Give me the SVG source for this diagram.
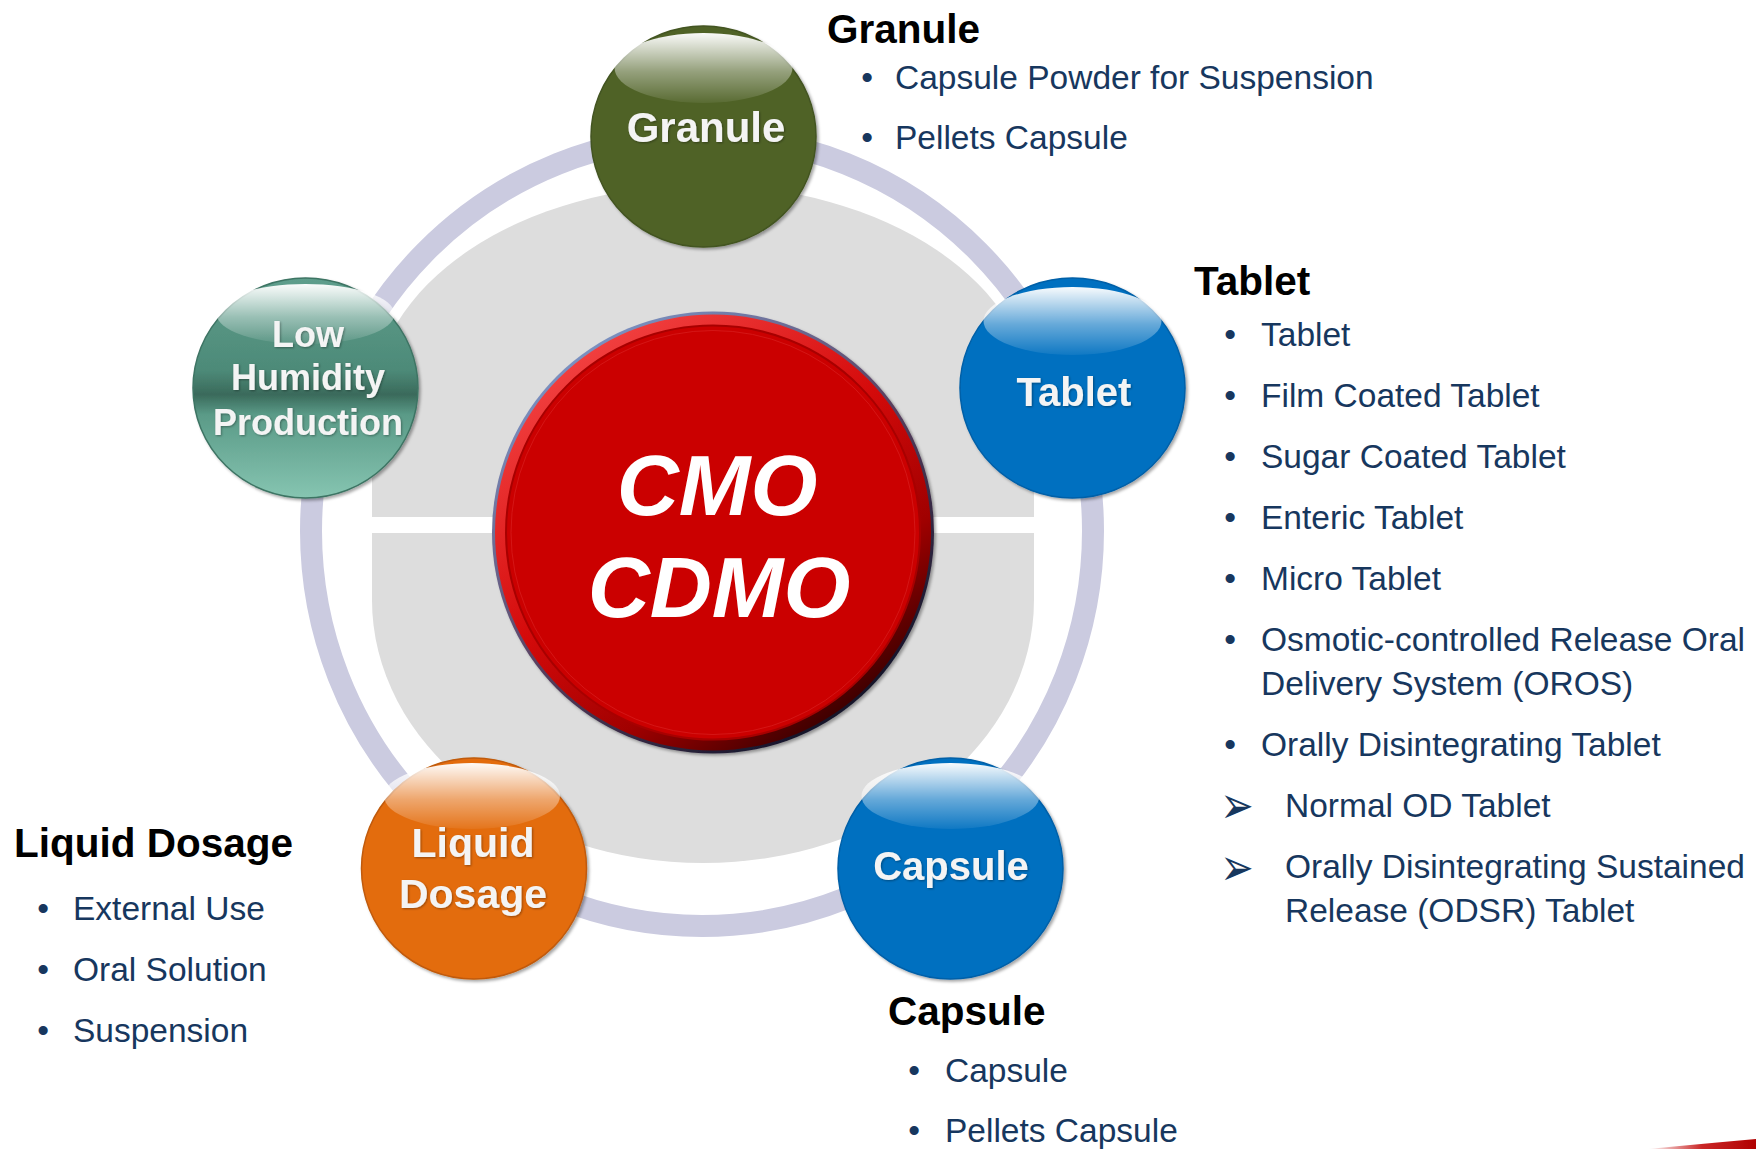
<svg xmlns="http://www.w3.org/2000/svg" width="1756" height="1149" viewBox="0 0 1756 1149">
<style>
.lbl{font-family:"Liberation Sans",Arial,sans-serif;font-weight:bold;fill:#F4F4F4;text-anchor:middle}
.head{font-family:"Liberation Sans",Arial,sans-serif;font-weight:bold;font-size:40.5px;fill:#000}
.item{font-family:"Liberation Sans",Arial,sans-serif;font-size:33.5px;fill:#17375E}
.dot{font-family:"Liberation Sans",Arial,sans-serif;font-size:33.5px;fill:#17375E;text-anchor:middle}
.arr{font-family:"DejaVu Sans",sans-serif;font-size:40px;fill:#17375E;text-anchor:middle}
.cmo{font-family:"Liberation Sans",Arial,sans-serif;font-weight:bold;font-style:italic;font-size:86px;fill:#FFFFFF;text-anchor:middle}
</style>
<defs>
<linearGradient id="hl" x1="0" y1="0" x2="0" y2="1">
<stop offset="0" stop-color="#FFFFFF" stop-opacity="0.97"/>
<stop offset="0.55" stop-color="#FFFFFF" stop-opacity="0.4"/>
<stop offset="1" stop-color="#FFFFFF" stop-opacity="0.06"/>
</linearGradient>
<linearGradient id="teal" x1="0" y1="0" x2="0" y2="1">
<stop offset="0" stop-color="#5E9E8C"/>
<stop offset="0.42" stop-color="#4D8A78"/>
<stop offset="0.53" stop-color="#3A6A5B"/>
<stop offset="0.62" stop-color="#5A9A87"/>
<stop offset="1" stop-color="#86C5B1"/>
</linearGradient>
<linearGradient id="edge" x1="0.2" y1="0.1" x2="0.8" y2="0.9">
<stop offset="0" stop-color="#7A90C0"/>
<stop offset="0.5" stop-color="#5A4060"/>
<stop offset="1" stop-color="#15152A"/>
</linearGradient>
<linearGradient id="rim" x1="0.2" y1="0.08" x2="0.8" y2="0.92">
<stop offset="0" stop-color="#F24040"/>
<stop offset="0.45" stop-color="#D40A0A"/>
<stop offset="0.75" stop-color="#A00000"/>
<stop offset="1" stop-color="#3A0000"/>
</linearGradient>
<linearGradient id="swoosh" x1="0" y1="0" x2="1" y2="0">
<stop offset="0" stop-color="#C00000" stop-opacity="0"/>
<stop offset="0.5" stop-color="#C00000" stop-opacity="0.85"/>
<stop offset="1" stop-color="#B00000"/>
</linearGradient>
<filter id="sh" x="-10%" y="-10%" width="125%" height="125%">
<feDropShadow dx="2" dy="2" stdDeviation="1.8" flood-color="#000" flood-opacity="0.35"/>
</filter>
<filter id="tsh" x="-10%" y="-20%" width="120%" height="150%">
<feDropShadow dx="1" dy="1" stdDeviation="0.8" flood-color="#000" flood-opacity="0.35"/>
</filter>
</defs>

<g id="background">
<ellipse cx="702" cy="531" rx="391" ry="395" fill="none" stroke="#CBCBE0" stroke-width="22"/>
<path d="M372,517 L372,408 A331,223 0 0 1 1034,408 L1034,517 Z" fill="#DDDDDD"/>
<path d="M372,533 L372,600 A331,263 0 0 0 1034,600 L1034,533 Z" fill="#DDDDDD"/>
<path d="M1648,1149 Q1700,1144 1756,1139 L1756,1149 Z" fill="url(#swoosh)"/>
</g>

<g id="connectors"></g>

<g id="node-center">
<g filter="url(#sh)">
<circle cx="713" cy="532.5" r="221" fill="url(#edge)"/>
</g>
<circle cx="713" cy="532.5" r="218" fill="url(#rim)"/>
<circle cx="713" cy="532.5" r="207" fill="#CB0000" stroke="#A80000" stroke-width="2"/>
<circle cx="713" cy="532.5" r="202" fill="none" stroke="#D82020" stroke-width="1" opacity="0.7"/>
<text class="cmo" x="717" y="515">CMO</text>
<text class="cmo" x="719" y="617">CDMO</text>
</g>

<g id="node-granule">
<ellipse cx="703.5" cy="136.5" rx="112.5" ry="110.5" fill="#506228" stroke="#435420" stroke-width="1.5" filter="url(#sh)"/>
<ellipse cx="703.5" cy="68" rx="89" ry="35" fill="url(#hl)"/>
<text class="lbl" x="706" y="142" font-size="42" filter="url(#tsh)">Granule</text>
</g>

<g id="node-lowhumidity">
<ellipse cx="305.5" cy="388" rx="112.5" ry="110" fill="url(#teal)" stroke="#3E7464" stroke-width="1.5" filter="url(#sh)"/>
<ellipse cx="305.5" cy="314" rx="89" ry="30" fill="url(#hl)"/>
<text class="lbl" x="308" y="347" font-size="36" filter="url(#tsh)">Low</text>
<text class="lbl" x="308" y="390" font-size="36" filter="url(#tsh)">Humidity</text>
<text class="lbl" x="308" y="435" font-size="36" filter="url(#tsh)">Production</text>
</g>

<g id="node-tablet">
<ellipse cx="1072.5" cy="388" rx="112.5" ry="110" fill="#0070C0" stroke="#0060A8" stroke-width="1.5" filter="url(#sh)"/>
<ellipse cx="1072.5" cy="321" rx="89" ry="34" fill="url(#hl)"/>
<text class="lbl" x="1074" y="406" font-size="40" filter="url(#tsh)">Tablet</text>
</g>

<g id="node-liquid">
<ellipse cx="474" cy="868.5" rx="112.5" ry="110.5" fill="#E36C0A" stroke="#C05A08" stroke-width="1.5" filter="url(#sh)"/>
<ellipse cx="472" cy="796" rx="88" ry="33" fill="url(#hl)"/>
<text class="lbl" x="473" y="857" font-size="41" filter="url(#tsh)">Liquid</text>
<text class="lbl" x="473" y="908" font-size="41" filter="url(#tsh)">Dosage</text>
</g>

<g id="node-capsule">
<ellipse cx="950.5" cy="868.5" rx="112.5" ry="110.5" fill="#0070C0" stroke="#0060A8" stroke-width="1.5" filter="url(#sh)"/>
<ellipse cx="950.5" cy="796" rx="89" ry="33" fill="url(#hl)"/>
<text class="lbl" x="951" y="880" font-size="40" filter="url(#tsh)">Capsule</text>
</g>

<g id="list-granule">
<text class="head" x="827" y="43">Granule</text>
<text class="dot" x="867" y="89">•</text>
<text class="item" x="895" y="89">Capsule Powder for Suspension</text>
<text class="dot" x="867" y="149">•</text>
<text class="item" x="895" y="149">Pellets Capsule</text>
</g>

<g id="list-tablet">
<text class="head" x="1194" y="295">Tablet</text>
<text class="dot" x="1230" y="346">•</text>
<text class="item" x="1261" y="346">Tablet</text>
<text class="dot" x="1230" y="407">•</text>
<text class="item" x="1261" y="407">Film Coated Tablet</text>
<text class="dot" x="1230" y="468">•</text>
<text class="item" x="1261" y="468">Sugar Coated Tablet</text>
<text class="dot" x="1230" y="529">•</text>
<text class="item" x="1261" y="529">Enteric Tablet</text>
<text class="dot" x="1230" y="590">•</text>
<text class="item" x="1261" y="590">Micro Tablet</text>
<text class="dot" x="1230" y="651">•</text>
<text class="item" x="1261" y="651">Osmotic-controlled Release Oral</text>
<text class="item" x="1261" y="695">Delivery System (OROS)</text>
<text class="dot" x="1230" y="756">•</text>
<text class="item" x="1261" y="756">Orally Disintegrating Tablet</text>
<text class="arr" transform="translate(1237,823) scale(1,1.3)">➢</text>
<text class="item" x="1285" y="817">Normal OD Tablet</text>
<text class="arr" transform="translate(1237,885) scale(1,1.3)">➢</text>
<text class="item" x="1285" y="878">Orally Disintegrating Sustained</text>
<text class="item" x="1285" y="922">Release (ODSR) Tablet</text>
</g>

<g id="list-liquid">
<text class="head" x="14" y="857">Liquid Dosage</text>
<text class="dot" x="43" y="920">•</text>
<text class="item" x="73" y="920">External Use</text>
<text class="dot" x="43" y="981">•</text>
<text class="item" x="73" y="981">Oral Solution</text>
<text class="dot" x="43" y="1042">•</text>
<text class="item" x="73" y="1042">Suspension</text>
</g>

<g id="list-capsule">
<text class="head" x="888" y="1025">Capsule</text>
<text class="dot" x="914" y="1082">•</text>
<text class="item" x="945" y="1082">Capsule</text>
<text class="dot" x="914" y="1142">•</text>
<text class="item" x="945" y="1142">Pellets Capsule</text>
</g>
</svg>
